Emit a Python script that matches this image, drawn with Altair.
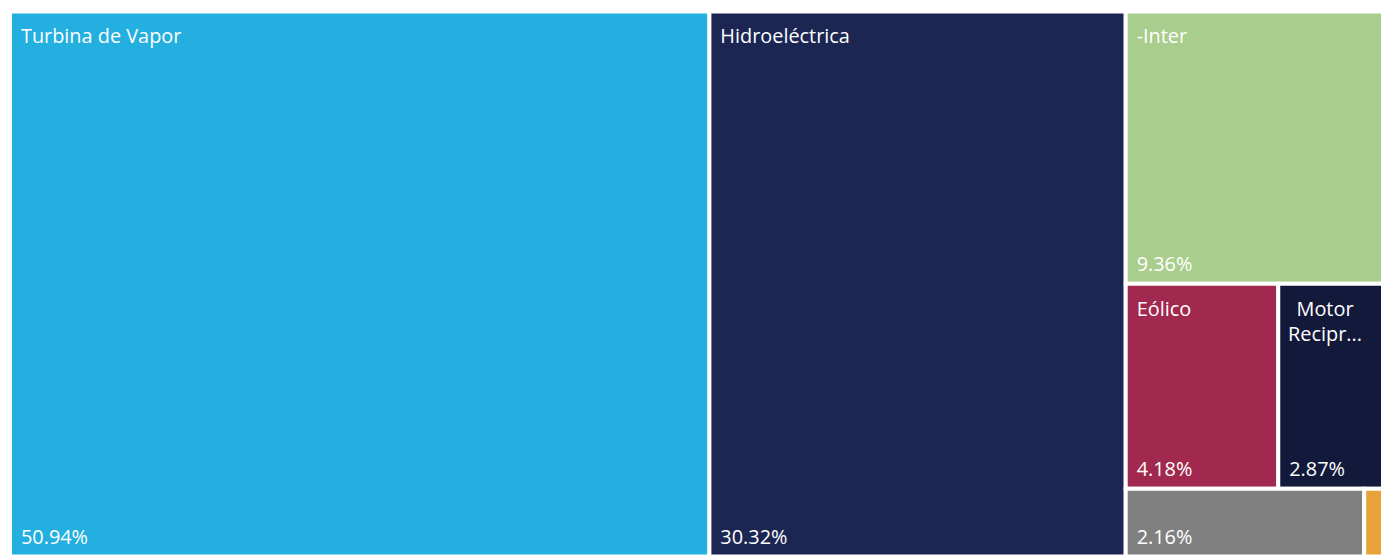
import altair as alt
import pandas as pd

# ---- data ----
categories = ["Turbina de Vapor", "Hidroeléctrica", "-Inter", "Eólico",
              "Motor Reciprocante", "Otros", "Solar"]
values = [50.94, 30.32, 9.36, 4.18, 2.87, 2.16, 0.17]
display_names = ["Turbina de Vapor", "Hidroeléctrica", "-Inter", "Eólico",
                 "Motor\nRecipr...", "", ""]
show_pct = [True, True, True, True, True, True, False]
colors = ["#23B0E0", "#1C2653", "#A8CD8C", "#A1294F", "#12193A", "#808080", "#E8A23A"]

W, H = 1380, 548


def worst(row, length):
    s = sum(row)
    return max(length * length * max(row) / (s * s), (s * s) / (length * length * min(row)))


def squarify(vals, x, y, w, h):
    total = sum(vals)
    areas = [v / total * w * h for v in vals]
    out = []
    rest = areas[:]
    while rest:
        length = min(w, h)
        row = [rest[0]]
        i = 1
        while i < len(rest) and worst(row + [rest[i]], length) <= worst(row, length):
            row.append(rest[i])
            i += 1
        s = sum(row)
        if w >= h:
            cw = s / h
            yy = y
            for a in row:
                hh = a / cw
                out.append((x, yy, x + cw, yy + hh))
                yy += hh
            x += cw
            w -= cw
        else:
            rh = s / w
            xx = x
            for a in row:
                ww = a / rh
                out.append((xx, y, xx + ww, y + rh))
                xx += ww
            y += rh
            h -= rh
        rest = rest[i:]
    return out


boxes = squarify(values, 0, 0, W, H)
df = pd.DataFrame({
    "cat": categories,
    "value": values,
    "label": display_names,
    "pct": [f"{v:.2f}%" if s else "" for v, s in zip(values, show_pct)],
    "wrap": ["\n" in n for n in display_names],
    "x0": [b[0] for b in boxes],
    "y0": [b[1] for b in boxes],
    "x1": [b[2] for b in boxes],
    "y1": [b[3] for b in boxes],
})

xs = alt.Scale(domain=[0, W], nice=False, zero=False)
ys = alt.Scale(domain=[0, H], nice=False, zero=False, reverse=True)

base = alt.Chart(df)

rects = base.mark_rect(stroke="white", strokeWidth=4).encode(
    x=alt.X("x0:Q", scale=xs, axis=None),
    x2="x1:Q",
    y=alt.Y("y0:Q", scale=ys, axis=None),
    y2="y1:Q",
    color=alt.Color("cat:N", scale=alt.Scale(domain=categories, range=colors), legend=None),
    tooltip=["cat:N", "value:Q"],
)

font = "Open Sans"
fs = 20
names = base.transform_filter("datum.label != '' && !datum.wrap").mark_text(
    align="left", baseline="alphabetic", dx=11, dy=32, font=font, fontSize=fs, color="white"
).encode(x=alt.X("x0:Q", scale=xs), y=alt.Y("y0:Q", scale=ys), text="label:N")

wrapped = base.transform_filter("datum.wrap").mark_text(
    align="center", baseline="alphabetic", dx=47, dy=32, font=font, fontSize=fs,
    color="white", lineBreak="\n", lineHeight=26
).encode(x=alt.X("x0:Q", scale=xs), y=alt.Y("y0:Q", scale=ys), text="label:N")

pcts = base.transform_filter("datum.pct != ''").mark_text(
    align="left", baseline="alphabetic", dx=11, dy=-13, font=font, fontSize=fs, color="white"
).encode(x=alt.X("x0:Q", scale=xs), y=alt.Y("y1:Q", scale=ys), text="pct:N")

chart = alt.layer(rects, names, wrapped, pcts).properties(
    width=W, height=H, padding=0, background="white"
).configure_view(stroke=None)

chart.save("out.html", embed_options={"renderer": "svg", "actions": False})
